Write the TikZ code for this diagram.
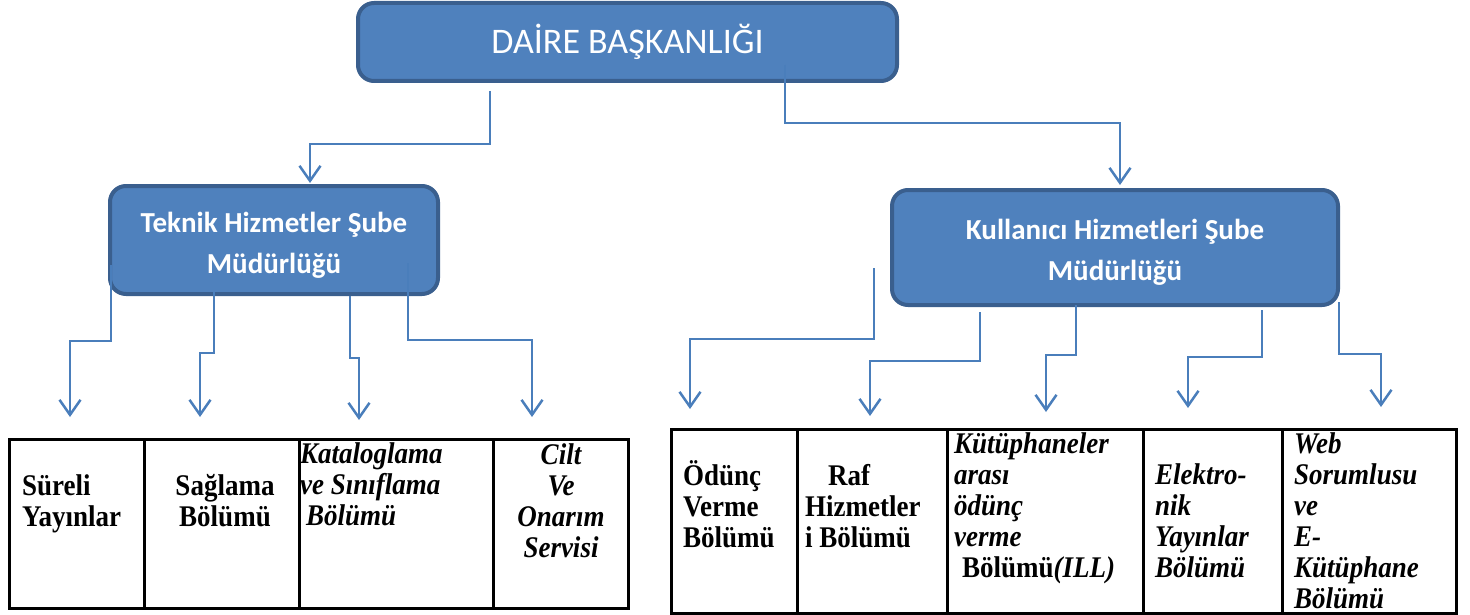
\documentclass[tikz,border=0pt]{standalone}
\usepackage{fontspec}
\setmainfont{Liberation Serif}[FakeStretch=0.9]
\newfontfamily\calibri{Carlito}
\usetikzlibrary{arrows.meta}
\definecolor{boxfill}{HTML}{4F81BD}
\definecolor{boxline}{HTML}{3A5F8E}
\definecolor{connc}{HTML}{4A7EBB}
\begin{document}
\begin{tikzpicture}[x=1pt,y=-1pt,
  bluebox/.style={draw=boxline, fill=boxfill, line width=4pt, rounded corners=16pt, inner sep=0pt, text=white, align=center},
  conn/.style={draw=connc, line width=2.5pt, -{Straight Barb[length=15pt,width=21pt]}},
  cell/.style={draw=black, line width=2.5pt, inner sep=0pt, anchor=north west},
  celltext/.style={font=\fontsize{30}{31}\selectfont\bfseries, inner sep=0pt},
  cellit/.style={font=\fontsize{30}{31}\selectfont\bfseries\itshape, inner sep=0pt},
]
\useasboundingbox (0,0) rectangle (1470,615);

% boxes
\node[bluebox, minimum width=539pt, minimum height=78pt, font=\calibri\fontsize{36}{40}\selectfont] (top) at (627.5,42) {DAİRE BAŞKANLIĞI};
\node[bluebox, minimum width=328pt, minimum height=108pt, font=\calibri\bfseries\fontsize{29}{41}\selectfont] (tek) at (274,240) {\rule{0pt}{30pt}Teknik Hizmetler Şube\\Müdürlüğü};
\node[bluebox, minimum width=446pt, minimum height=115pt, font=\calibri\bfseries\fontsize{29}{41}\selectfont] (kul) at (1115,247.5) {\rule{0pt}{30pt}Kullanıcı Hizmetleri Şube\\Müdürlüğü};

% left table cells
\node[cell, minimum width=135pt, minimum height=169pt] (l1) at (8,438) {};
\node[cell, minimum width=155pt, minimum height=169pt] (l2) at (143,438) {};
\node[cell, minimum width=194pt, minimum height=169pt] (l3) at (298,438) {};
\node[cell, minimum width=135pt, minimum height=169pt] (l4) at (492,438) {};
% right table cells
\node[cell, minimum width=126pt, minimum height=184pt] (r1) at (670,428) {};
\node[cell, minimum width=150pt, minimum height=184pt] (r2) at (796,428) {};
\node[cell, minimum width=196pt, minimum height=184pt] (r3) at (946,428) {};
\node[cell, minimum width=139pt, minimum height=184pt] (r4) at (1142,428) {};
\node[cell, minimum width=174pt, minimum height=184pt] (r5) at (1281,428) {};

% cell texts (anchor base = baseline of last line)
\node[celltext, anchor=base west, align=left] (tl1) at (22,526) {Süreli\\Yayınlar};
\node[celltext, anchor=base, align=center] (tl2) at (225,526) {Sağlama\\Bölümü};
\node[cellit, anchor=base west, align=left] (tl3) at (300,525) {Kataloglama\\ve Sınıflama\\\hspace*{6pt}Bölümü};
\node[cellit, anchor=base, align=center] (tl4) at (561,557) {Cilt\\Ve\\Onarım\\Servisi};

\node[celltext, anchor=base west, align=left] (tr1) at (683,547) {Ödünç\\Verme\\Bölümü};
\node[celltext, anchor=base west, align=left] (tr2) at (805,547) {\hspace*{23pt}Raf\\Hizmetler\\i Bölümü};
\node[cellit, anchor=base west, align=left] (tr3) at (954,577) {Kütüphaneler\\arası\\ödünç\\verme\\\hspace*{8pt}{\upshape Bölümü}(ILL)};
\node[cellit, anchor=base west, align=left] (tr4) at (1155,577) {Elektro-\\nik\\Yayınlar\\Bölümü};
\node[cellit, anchor=base west, align=left] (tr5) at (1294,608) {Web\\Sorumlusu\\ve\\E-\\Kütüphane\\Bölümü};

% connector start and tip points
\coordinate (sA) at (490,91);   \coordinate (tA) at (310,183);
\coordinate (sB) at (785,65);   \coordinate (tB) at (1120,185);
\coordinate (s1) at (111,265);  \coordinate (t1) at (70,417);
\coordinate (s2) at (214,292);  \coordinate (t2) at (200,417);
\coordinate (s3) at (350,296);  \coordinate (t3) at (359,420);
\coordinate (s4) at (408,263);  \coordinate (t4) at (532,417);
\coordinate (s5) at (874,268);  \coordinate (t5) at (690,409);
\coordinate (s6) at (980,312);  \coordinate (t6) at (870,416);
\coordinate (s7) at (1076,305); \coordinate (t7) at (1046,412);
\coordinate (s8) at (1262,310); \coordinate (t8) at (1188,408);
\coordinate (s9) at (1339,302); \coordinate (t9) at (1381,407);

\draw[conn] (sA) -- ++(0,53) -| (tA);
\draw[conn] (sB) -- ++(0,58) -| (tB);
\draw[conn] (s1) -- ++(0,76) -| (t1);
\draw[conn] (s2) -- ++(0,61) -| (t2);
\draw[conn] (s3) -- ++(0,62) -| (t3);
\draw[conn] (s4) -- ++(0,77) -| (t4);
\draw[conn] (s5) -- ++(0,71) -| (t5);
\draw[conn] (s6) -- ++(0,49) -| (t6);
\draw[conn] (s7) -- ++(0,50) -| (t7);
\draw[conn] (s8) -- ++(0,47) -| (t8);
\draw[conn] (s9) -- ++(0,52) -| (t9);
\end{tikzpicture}
\end{document}
